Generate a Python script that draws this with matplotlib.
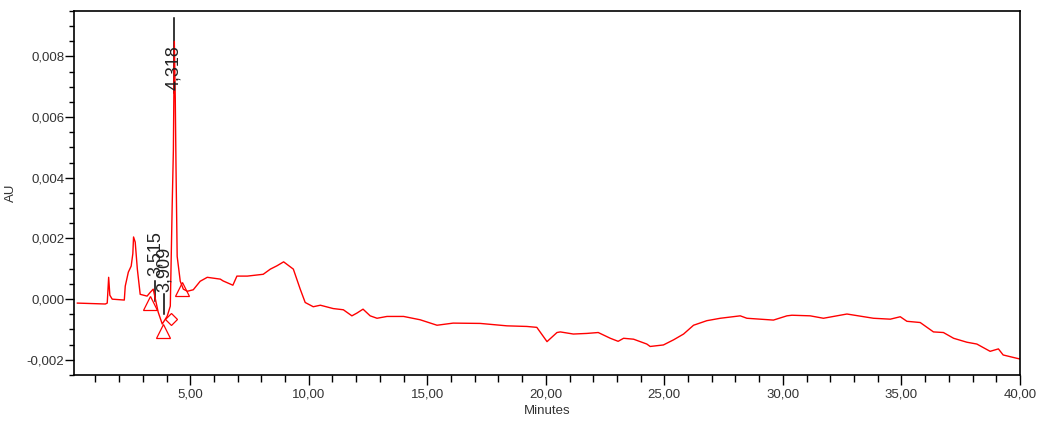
import matplotlib
matplotlib.use("Agg")
import matplotlib.pyplot as plt
from matplotlib.ticker import MultipleLocator, FuncFormatter

plt.rcParams['font.family'] = ['Liberation Sans', 'DejaVu Sans']

# chromatogram trace: retention time (min) and absorbance (AU)
minutes = [0.24, 1.42, 1.50, 1.56, 1.61, 1.71, 2.22, 2.26, 2.39, 2.51, 2.58, 2.61,
           2.68, 2.77, 2.89, 3.18, 3.32, 3.44, 3.65, 3.82, 4.03, 4.16, 4.24, 4.29,
           4.33, 4.37, 4.40, 4.45, 4.58, 4.71, 4.88, 5.13, 5.42, 5.72, 6.27, 6.39,
           6.80, 6.97, 7.41, 8.08, 8.38, 8.66, 8.94, 9.35, 9.64, 9.85, 10.19, 10.49,
           11.03, 11.46, 11.82, 12.03, 12.29, 12.59, 12.88, 13.30, 14.00, 14.70,
           15.41, 16.09, 17.23, 18.36, 19.20, 19.62, 20.05, 20.47, 20.61, 21.16,
           21.73, 22.21, 22.72, 23.05, 23.28, 23.70, 24.26, 24.40, 24.96, 25.39,
           25.81, 26.23, 26.79, 27.36, 28.20, 28.48, 29.04, 29.60, 30.17, 30.38,
           31.15, 31.71, 32.70, 33.82, 34.53, 34.95, 35.23, 35.79, 36.35, 36.77,
           37.20, 37.76, 38.18, 38.74, 39.09, 39.29, 39.71, 39.98]
absorbance = [-0.00013, -0.00016, -0.00013, 0.00072, 0.00013, 0.00000, -0.00003,
              0.00043, 0.00089, 0.00109, 0.00150, 0.00205, 0.00188, 0.00099,
              0.00016, 0.00010, 0.00023, 0.00033, -0.00043, -0.00082, -0.00056,
              -0.00023, 0.00310, 0.00490, 0.00850, 0.00660, 0.00440, 0.00141,
              0.00059, 0.00033, 0.00026, 0.00031, 0.00059, 0.00072, 0.00066,
              0.00060, 0.00046, 0.00076, 0.00076, 0.00082, 0.00099, 0.00110,
              0.00123, 0.00099, 0.00033, -0.00011, -0.00025, -0.00020, -0.00031,
              -0.00035, -0.00055, -0.00046, -0.00033, -0.00055, -0.00063, -0.00057,
              -0.00057, -0.00068, -0.00086, -0.00079, -0.00080, -0.00088, -0.00090,
              -0.00093, -0.00140, -0.00110, -0.00108, -0.00115, -0.00113, -0.00110,
              -0.00129, -0.00139, -0.00129, -0.00132, -0.00148, -0.00156, -0.00151,
              -0.00134, -0.00115, -0.00086, -0.00071, -0.00063, -0.00055, -0.00063,
              -0.00066, -0.00069, -0.00055, -0.00053, -0.00055, -0.00063, -0.00049,
              -0.00063, -0.00066, -0.00058, -0.00073, -0.00077, -0.00108, -0.00110,
              -0.00129, -0.00142, -0.00148, -0.00172, -0.00164, -0.00184, -0.00192,
              -0.00197]

# integrated peaks: retention time label, tick top/bottom, text base
peak_times = [3.515, 3.909, 4.318]
peak_labels = ["3,515", "3,909", "4,318"]
tick_low = [-0.00007, -0.00049, 0.0068]
tick_high = [0.00059, 0.00016, 0.00928]
label_base = [0.00076, 0.00023, 0.0069]

# baseline start/end markers
tri_t = [3.29, 3.84, 4.66]
tri_v = [-0.00013, -0.00105, 0.00033]
dia_t = [4.20]
dia_v = [-0.00066]

fig = plt.figure(figsize=(10.37, 4.21), dpi=100)
ax = fig.add_axes([0.0714, 0.1093, 0.9122, 0.8646])

for t, lo, hi in zip(peak_times, tick_low, tick_high):
    ax.plot([t, t], [lo, hi], color='black', lw=1.1, zorder=1)

ax.plot(minutes, absorbance, color='red', lw=1.0, zorder=2)
ax.plot(tri_t, tri_v, ls='none', marker='^', ms=10, mfc='none', mec='red', mew=0.9, zorder=3)
ax.plot(dia_t, dia_v, ls='none', marker='D', ms=6, mfc='none', mec='red', mew=0.9, zorder=3)

for t, lab, base in zip(peak_times, peak_labels, label_base):
    ax.text(t, base, lab, rotation=90, ha='center', va='bottom', fontsize=13, color='#222222', zorder=4)

ax.set_xlim(0.1, 40)
ax.set_ylim(-0.0025, 0.0095)

ax.xaxis.set_major_locator(MultipleLocator(5))
ax.xaxis.set_minor_locator(MultipleLocator(1))
ax.yaxis.set_major_locator(MultipleLocator(0.002))
ax.yaxis.set_minor_locator(MultipleLocator(0.0005))
ax.xaxis.set_major_formatter(FuncFormatter(lambda v, p: f"{v:.2f}".replace('.', ',')))
ax.yaxis.set_major_formatter(FuncFormatter(lambda v, p: f"{v:.3f}".replace('.', ',').replace('-0,000', '0,000')))

ax.tick_params(axis='x', which='major', direction='out', length=7, width=1, labelsize=9.5, pad=3, labelcolor='#333333')
ax.tick_params(axis='x', which='minor', direction='out', length=5, width=1)
ax.tick_params(axis='y', which='major', direction='out', length=6.5, width=1, labelsize=9.5, pad=0.5, labelcolor='#333333')
ax.tick_params(axis='y', which='minor', direction='out', length=3.5, width=1)

for s in ax.spines.values():
    s.set_linewidth(1.2)

ax.set_xlabel("Minutes", fontsize=9.5, color='#333333')
ax.xaxis.set_label_coords(0.5, -0.083)
ax.set_ylabel("AU", fontsize=9.5, color='#333333')
ax.yaxis.set_label_coords(-0.0603, 0.5)

fig.savefig("out.png", dpi=100)
